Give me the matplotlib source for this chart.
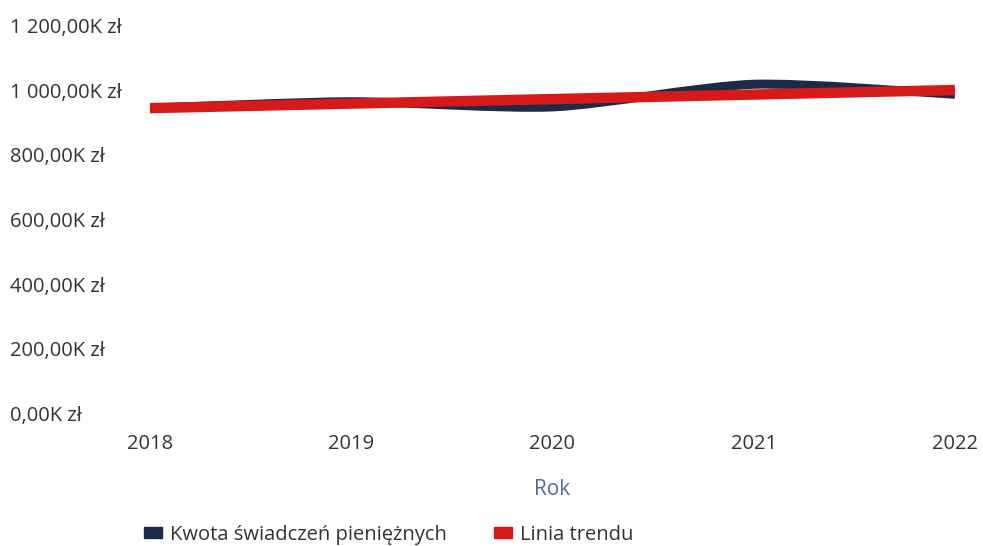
import numpy as np
import matplotlib
matplotlib.use("Agg")
import matplotlib.pyplot as plt
from matplotlib.path import Path
from matplotlib.patches import PathPatch

# data (values in thousands of zł)
years = [2018, 2019, 2020, 2021, 2022]
kwota = [952, 972, 956, 1026, 995]
y_ticks = [0, 200, 400, 600, 800, 1000, 1200]

NAVY = "#1c2a4a"
RED = "#d61a1a"
TXT = "#333333"


def fmt_k(v):
    s = "{:,.2f}".format(v).replace(",", " ").replace(".", ",")
    return s + "K zł"


# smooth path through the points (catmull-rom as bezier segments)
def smooth_path(xs, ys):
    pts = list(zip(xs, ys))
    verts = [pts[0]]
    codes = [Path.MOVETO]
    for i in range(len(pts) - 1):
        p0 = pts[i - 1] if i > 0 else pts[i]
        p1 = pts[i]
        p2 = pts[i + 1]
        p3 = pts[i + 2] if i + 2 < len(pts) else pts[i + 1]
        c1 = (p1[0] + (p2[0] - p0[0]) / 8, p1[1] + (p2[1] - p0[1]) / 8)
        c2 = (p2[0] - (p3[0] - p1[0]) / 8, p2[1] - (p3[1] - p1[1]) / 8)
        verts += [c1, c2, p2]
        codes += [Path.CURVE4] * 3
    return Path(verts, codes)


plt.rcParams['font.family'] = ['Open Sans', 'DejaVu Sans']
FS = 14.5

fig = plt.figure(figsize=(9.83, 5.46), dpi=100)
ax = fig.add_axes([0.1526, 0.2381, 0.8189, 0.7106])

patch = PathPatch(smooth_path(years, kwota), facecolor='none',
                  edgecolor=NAVY, lw=6.5, capstyle='butt', zorder=2)
ax.add_patch(patch)

# linear trend
a, b = np.polyfit(years, kwota, 1)
trend = [a * x + b for x in years]
ax.plot(years, trend, color=RED, lw=7.5, solid_capstyle='butt', zorder=3)

ax.set_xlim(2018, 2022)
ax.set_ylim(0, 1200)
for s in ax.spines.values():
    s.set_visible(False)
ax.set_xticks(years)
ax.set_xticklabels([str(y) for y in years], fontsize=FS, color=TXT)
ax.tick_params(axis='x', length=0, pad=13)
ax.set_yticks([])

trans = matplotlib.transforms.blended_transform_factory(fig.transFigure, ax.transData)
for v in y_ticks:
    ax.text(10 / 983, v, fmt_k(v), transform=trans, ha='left', va='center',
            fontsize=FS, color=TXT)

ax.set_xlabel("Rok", fontsize=15, color="#4f6c9c", labelpad=18)

h1 = plt.Rectangle((0, 0), 1, 1, color=NAVY)
h2 = plt.Rectangle((0, 0), 1, 1, color=RED)
fig.legend([h1, h2], ["Kwota świadczeń pieniężnych", "Linia trendu"],
           loc='center left', bbox_to_anchor=(126 / 983, 1 - 535 / 546), ncol=2,
           frameon=False, fontsize=FS, handlelength=0.9, handleheight=0.45,
           handletextpad=0.4, columnspacing=2.3, labelcolor=TXT)

fig.savefig("out.png", dpi=100)
